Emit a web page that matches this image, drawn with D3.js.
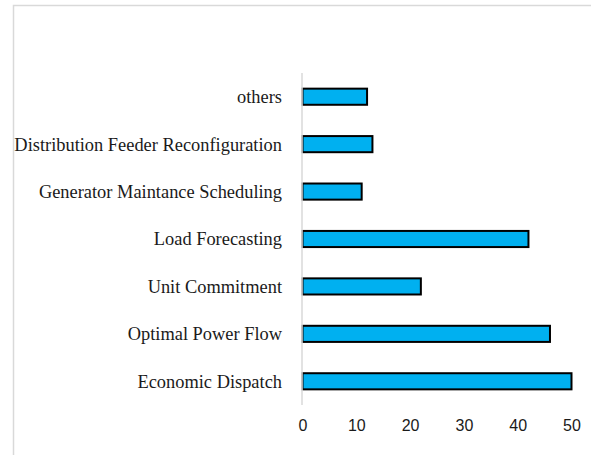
<!DOCTYPE html>
<html>
<head>
<meta charset="utf-8">
<script src="https://cdn.jsdelivr.net/npm/d3@7"></script>
<style>
  body { margin: 0; background: #fff; }
</style>
</head>
<body>
<div id="chart"></div>
<script>
// categories top to bottom, with their counts
const categories = ["others", "Distribution Feeder Reconfiguration", "Generator Maintance Scheduling",
  "Load Forecasting", "Unit Commitment", "Optimal Power Flow", "Economic Dispatch"];
const values = [12, 13, 11, 42, 22, 46, 50];
const xTicks = [0, 10, 20, 30, 40, 50];

const W = 591, H = 455;
const plotLeft = 302.5, plotRight = 571.5, plotTop = 73, plotBottom = 405;

const svg = d3.select("#chart").append("svg")
  .attr("width", W).attr("height", H);

// frame
svg.append("rect")
  .attr("x", 13.5).attr("y", 5.5)
  .attr("width", W).attr("height", H)
  .attr("fill", "none").attr("stroke", "#d9d9d9").attr("stroke-width", 1.5);

const x = d3.scaleLinear().domain([0, 50]).range([plotLeft, plotRight]);
const y = d3.scaleBand().domain(categories).range([plotTop, plotBottom]).paddingInner(0.66).paddingOuter(0.33);

// bars
svg.selectAll("rect.bar")
  .data(values)
  .enter().append("rect")
  .attr("class", "bar")
  .attr("x", x(0))
  .attr("y", (d, i) => y(categories[i]))
  .attr("width", d => x(d) - x(0))
  .attr("height", y.bandwidth())
  .attr("fill", "#00b0f0")
  .attr("stroke", "#000")
  .attr("stroke-width", 2);

// vertical axis line
svg.append("line")
  .attr("x1", x(0) - 0.5).attr("x2", x(0) - 0.5)
  .attr("y1", plotTop).attr("y2", plotBottom)
  .attr("stroke", "#d9d9d9").attr("stroke-width", 1.5);

// category labels
svg.selectAll("text.cat")
  .data(categories)
  .enter().append("text")
  .attr("class", "cat")
  .attr("x", 282)
  .attr("y", d => y(d) + y.bandwidth() / 2)
  .attr("dy", "0.35em")
  .attr("text-anchor", "end")
  .style("font-family", "'Liberation Serif', 'Times New Roman', serif")
  .style("font-size", "18.4px")
  .style("fill", "#1a1a1a")
  .text(d => d);

// x tick labels
const xAxis = d3.axisBottom(x).tickValues(xTicks).tickSize(0).tickPadding(0);
const gx = svg.append("g").attr("transform", `translate(0,${420})`).call(xAxis);
gx.select(".domain").remove();
gx.selectAll("text")
  .style("font-family", "'Liberation Sans', Arial, sans-serif")
  .style("font-size", "16px")
  .style("fill", "#1a1a1a");
</script>
</body>
</html>
